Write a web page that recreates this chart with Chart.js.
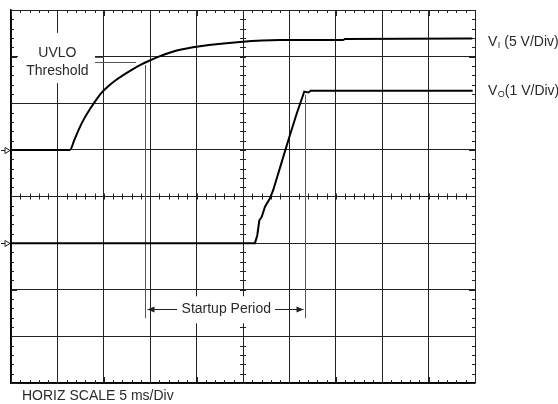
<!DOCTYPE html>
<html>
<head>
<meta charset="utf-8">
<script src="https://cdn.jsdelivr.net/npm/chart.js@4.4.0/dist/chart.umd.min.js"></script>
<style>
  html, body { margin: 0; padding: 0; background: #fff; }
  #wrap { width: 558px; height: 404px; }
</style>
</head>
<body>
<div id="wrap"><canvas id="scope" width="558" height="404"></canvas></div>
<script>
/* ---------- data (time in ms, volts) ---------- */
const viTime  = [0, 6.36, 6.82, 7.36, 7.90, 8.44, 9.16, 9.70, 10.42, 11.31, 12.39, 13.9, 14.98, 16.06, 17.86, 20.37, 24.68, 28.99, 35.78, 35.99, 49.7];
const viVolts = [0, 0, 1.05, 2.31, 3.38, 4.27, 5.34, 6.06, 6.77, 7.49, 8.21, 9.1, 9.6, 10.05, 10.65, 11.12, 11.58, 11.78, 11.78, 11.89, 11.94];

const voTime  = [0, 26.29, 26.54, 26.76, 27.01, 27.37, 27.91, 28.26, 29.34, 30.06, 30.79, 31.6, 32.04, 32.3, 49.75];
const voVolts = [0, 0, 0.17, 0.49, 0.56, 0.78, 0.96, 1.14, 1.85, 2.32, 2.78, 3.25, 3.23, 3.27, 3.27];

// channel setup: ground offset (divisions) and volts per division
const VI_OFFSET = 1,  VI_PER_DIV = 5;
const VO_OFFSET = -1, VO_PER_DIV = 1;

const X_MIN = 0, X_MAX = 50, X_STEP = 5;    // 5 ms/div, 10 divisions
const Y_MIN = -4, Y_MAX = 4, Y_STEP = 1;    // 8 divisions

// markers (ms / divisions)
const UVLO_VOLTS = 9.45;
const START_T0 = 14.44, START_T1 = 31.68;

const FONT = '14px "Liberation Sans", Arial, sans-serif';
const TEXT_COLOR = '#2a2a2a';

function toDiv(volts, offset, perDiv) { return offset + volts / perDiv; }

/* ---------- scope overlay: minor ticks, markers, labels ---------- */
const scopePlugin = {
  id: 'scope',
  beforeDatasetsDraw(chart) {
    const ctx = chart.ctx;
    const xs = chart.scales.x, ys = chart.scales.y;
    const px = v => xs.getPixelForValue(v);
    const py = v => ys.getPixelForValue(v);
    const a = chart.chartArea;

    ctx.save();
    ctx.strokeStyle = '#222';
    ctx.lineWidth = 1;
    ctx.beginPath();
    // ticks every 0.2 div along borders and centre axes
    for (let t = X_MIN; t <= X_MAX + 0.001; t += X_STEP / 5) {
      const x = Math.round(px(t)) + 0.5;
      const len = (Math.abs(t % X_STEP) < 0.01) ? 6 : 3;
      ctx.moveTo(x, a.top); ctx.lineTo(x, a.top + len);
      ctx.moveTo(x, a.bottom); ctx.lineTo(x, a.bottom - len);
      ctx.moveTo(x, py(0) - 3); ctx.lineTo(x, py(0) + 3);
    }
    for (let d = Y_MIN; d <= Y_MAX + 0.001; d += Y_STEP / 5) {
      const y = Math.round(py(d)) + 0.5;
      const len = (Math.abs(Math.round(d * 5) % 5) === 0) ? 6 : 3;
      ctx.moveTo(a.left, y); ctx.lineTo(a.left + len, y);
      ctx.moveTo(a.right, y); ctx.lineTo(a.right - len, y);
      ctx.moveTo(px(25) - 3, y); ctx.lineTo(px(25) + 3, y);
    }
    ctx.stroke();

    // white boxes behind the labels
    ctx.fillStyle = '#fff';
    ctx.fillRect(px(0.75), py(3.51), px(9.05) - px(0.75), py(2.43) - py(3.51));
    ctx.fillRect(px(18.0), py(-2.14), px(28.45) - px(18.0), py(-2.72) - py(-2.14));

    // ground markers at the left edge
    ctx.strokeStyle = '#222';
    [VI_OFFSET, VO_OFFSET].forEach(g => {
      const y = Math.round(py(g)) + 0.5;
      ctx.beginPath();
      ctx.moveTo(a.left - 10, y); ctx.lineTo(a.left - 6, y);
      ctx.moveTo(a.left - 6, y - 3); ctx.lineTo(a.left - 1, y); ctx.lineTo(a.left - 6, y + 3); ctx.closePath();
      ctx.stroke();
    });

    // UVLO threshold leader and startup markers
    ctx.strokeStyle = '#555';
    ctx.lineWidth = 1;
    ctx.beginPath();
    const yu = Math.round(py(toDiv(UVLO_VOLTS, VI_OFFSET, VI_PER_DIV))) + 0.5;
    ctx.moveTo(px(9.05), yu); ctx.lineTo(px(13.47), yu);
    const yuGrid = Math.round(py(3)) + 0.5;
    ctx.moveTo(px(9.05), yuGrid); ctx.lineTo(px(10), yuGrid);
    const x0 = Math.round(px(START_T0)) + 0.5, x1 = Math.round(px(START_T1)) + 0.5;
    ctx.moveTo(x0, py(2.82)); ctx.lineTo(x0, py(-2.61));
    ctx.moveTo(x1, py(2.18)); ctx.lineTo(x1, py(-2.61));
    ctx.stroke();

    // startup period arrow
    const ya = Math.round(py(-2.42)) + 0.5;
    ctx.strokeStyle = '#222';
    ctx.fillStyle = '#222';
    ctx.beginPath();
    ctx.moveTo(x0 + 2, ya); ctx.lineTo(px(17.9), ya);
    ctx.moveTo(px(28.45), ya); ctx.lineTo(x1 - 2, ya);
    ctx.stroke();
    ctx.beginPath();
    ctx.moveTo(x0 + 2, ya); ctx.lineTo(x0 + 9, ya - 3); ctx.lineTo(x0 + 9, ya + 3); ctx.closePath();
    ctx.moveTo(x1 - 2, ya); ctx.lineTo(x1 - 9, ya - 3); ctx.lineTo(x1 - 9, ya + 3); ctx.closePath();
    ctx.fill();
    ctx.restore();
  },
  afterDraw(chart) {
    const ctx = chart.ctx;
    const xs = chart.scales.x, ys = chart.scales.y;
    const px = v => xs.getPixelForValue(v);
    const py = v => ys.getPixelForValue(v);
    const a = chart.chartArea;

    ctx.save();
    ctx.font = FONT;
    ctx.fillStyle = TEXT_COLOR;
    ctx.textBaseline = 'middle';
    ctx.textAlign = 'center';
    ctx.fillText('UVLO', px(5), py(3.07));
    ctx.fillText('Threshold', px(5), py(2.69));
    ctx.fillText('Startup Period', px(23.2), py(-2.42));

    ctx.textAlign = 'left';
    ctx.fillText('HORIZ SCALE 5 ms/Div', a.left + 11, a.bottom + 13);

    // channel labels with subscripts
    function chanLabel(sub, rest, y) {
      let x = a.right + 13;
      ctx.font = FONT;
      ctx.fillText('V', x, y);
      x += ctx.measureText('V').width;
      ctx.font = '9px "Liberation Sans", Arial, sans-serif';
      ctx.fillText(sub, x + 0.5, y + 4);
      x += ctx.measureText(sub).width + 0.5;
      ctx.font = FONT;
      ctx.fillText(rest, x, y);
    }
    chanLabel('I', ' (5 V/Div)', py(3.32));
    chanLabel('O', '(1 V/Div)', py(2.27));
    ctx.restore();
  }
};

const viPoints = viTime.map((t, i) => ({ x: t, y: toDiv(viVolts[i], VI_OFFSET, VI_PER_DIV) }));
const voPoints = voTime.map((t, i) => ({ x: t, y: toDiv(voVolts[i], VO_OFFSET, VO_PER_DIV) }));

new Chart(document.getElementById('scope'), {
  type: 'scatter',
  data: {
    datasets: [
      { label: 'VI', data: viPoints, showLine: true, borderColor: '#000', borderWidth: 2,
        pointRadius: 0, cubicInterpolationMode: 'monotone' },
      { label: 'VO', data: voPoints, showLine: true, borderColor: '#000', borderWidth: 2,
        pointRadius: 0, tension: 0 }
    ]
  },
  options: {
    responsive: false,
    animation: false,
    layout: { padding: { left: 11, top: 10, right: 83, bottom: 21 } },
    plugins: { legend: { display: false }, tooltip: { enabled: false } },
    scales: {
      x: {
        type: 'linear', min: X_MIN, max: X_MAX,
        ticks: { display: false, stepSize: X_STEP },
        grid: { color: '#222', lineWidth: 1, drawTicks: false },
        border: { display: true, color: '#000', width: 1.5 }
      },
      y: {
        type: 'linear', min: Y_MIN, max: Y_MAX,
        ticks: { display: false, stepSize: Y_STEP },
        grid: { color: '#222', lineWidth: 1, drawTicks: false },
        border: { display: true, color: '#000', width: 1.5 }
      }
    }
  },
  plugins: [scopePlugin]
});
</script>
</body>
</html>
